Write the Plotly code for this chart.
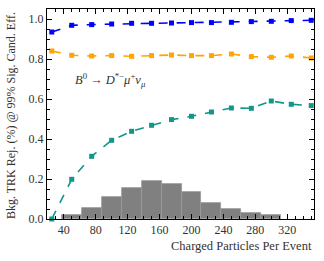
import plotly.graph_objects as go

x_vals = [25, 50, 75, 100, 125, 150, 175, 200, 225, 250, 275, 300, 325, 350]
sig_eff = [0.935, 0.9685, 0.972, 0.975, 0.9785, 0.9785, 0.980, 0.982, 0.982, 0.9835, 0.987, 0.9885, 0.992, 0.9935]
mid_eff = [0.840, 0.8185, 0.815, 0.817, 0.8135, 0.817, 0.820, 0.817, 0.817, 0.825, 0.812, 0.8085, 0.815, 0.805]
bkg_rej = [0.0, 0.1985, 0.3135, 0.3935, 0.4385, 0.4685, 0.497, 0.5135, 0.535, 0.555, 0.5535, 0.590, 0.5735, 0.567]

hist_centers = [50, 75, 100, 125, 150, 175, 200, 225, 250, 275, 300]
hist_heights = [0.0185, 0.055, 0.1085, 0.157, 0.192, 0.1735, 0.135, 0.082, 0.0485, 0.030, 0.0185]
hist_width = 25

x_ticks = [40, 80, 120, 160, 200, 240, 280, 320]
y_ticks = [0.0, 0.2, 0.4, 0.6, 0.8, 1.0]

FONT = "Liberation Serif, Times New Roman, serif"

fig = go.Figure()
fig.add_trace(go.Bar(x=hist_centers, y=hist_heights, width=[hist_width] * len(hist_centers),
                     marker=dict(color="#808080", line=dict(color="#9a9a9a", width=0.8)),
                     showlegend=False, hoverinfo="skip"))
for ys, col in [(sig_eff, "#0000ff"), (mid_eff, "#ffa500"), (bkg_rej, "#12968a")]:
    fig.add_trace(go.Scatter(x=x_vals, y=ys, mode="lines+markers",
                             line=dict(color=col, width=1.6, dash="dash"),
                             marker=dict(symbol="square", size=5, color=col),
                             showlegend=False, cliponaxis=False))

axis_common = dict(showline=True, linecolor="black", linewidth=1, mirror="allticks",
                   ticks="inside", ticklen=5, tickwidth=1, tickcolor="black",
                   showgrid=False, zeroline=False,
                   tickfont=dict(family=FONT, size=12, color="#333333"))

fig.update_layout(
    width=324, height=261,
    margin=dict(l=47, r=10, t=9, b=42),
    paper_bgcolor="white", plot_bgcolor="white",
    bargap=0,
    font=dict(family=FONT, size=12, color="#333333"),
    xaxis=dict(range=[19, 353.5], tickvals=x_ticks,
               minor=dict(dtick=10, tick0=0, ticks="inside", ticklen=3, tickcolor="black", showgrid=False),
               **axis_common),
    yaxis=dict(range=[0, 1.05], tickvals=y_ticks, tickformat=".1f",
               minor=dict(dtick=0.05, tick0=0, ticks="inside", ticklen=3, tickcolor="black", showgrid=False),
               **axis_common),
    annotations=[
        dict(text="Charged Particles Per Event", xref="paper", yref="paper",
             x=1.0, y=-0.129, xanchor="right", yanchor="middle", showarrow=False,
             font=dict(family=FONT, size=12.5, color="#333333")),
        dict(text="Bkg. TRK Rej. (%) @ 99% Sig. Cand. Eff.", xref="paper", yref="paper",
             x=-0.135, y=0.495, xanchor="center", yanchor="middle", textangle=-90, showarrow=False,
             font=dict(family=FONT, size=12, color="#333333")),
        dict(text="<i>B</i><sup>0</sup> → <i>D</i><sup>*−</sup><i>μ</i><sup>+</sup><i>ν</i><sub><i>μ</i></sub>",
             xref="paper", yref="paper", x=0.098, y=0.662, xanchor="left", yanchor="middle",
             showarrow=False, font=dict(family=FONT, size=12.5, color="#333333")),
    ],
)

fig.write_html("out.html", config={"displayModeBar": False},
               post_script="document.body.style.margin='0';document.body.style.padding='0';")
